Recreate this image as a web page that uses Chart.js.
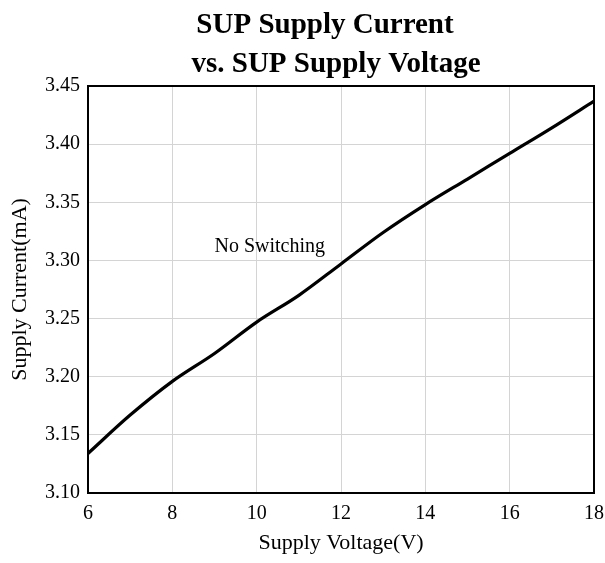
<!DOCTYPE html>
<html>
<head>
<meta charset="utf-8">
<script src="https://cdn.jsdelivr.net/npm/chart.js@4"></script>
<style>
html,body{margin:0;padding:0;background:#fff;}
#wrap{width:605px;height:563px;position:relative;}
</style>
</head>
<body>
<div id="wrap"><canvas id="c" width="605" height="563"></canvas></div>
<script>
const titleLines = ['SUP Supply Current', 'vs. SUP Supply Voltage'];
const xAxisTitle = 'Supply Voltage(V)';
const yAxisTitle = 'Supply Current(mA)';
const annotationText = 'No Switching';
const annotationPos = [9.0, 3.307];
const voltage = [6, 7, 8, 9, 10, 11, 12, 13, 14, 15, 16, 17, 18];
const current = [3.134, 3.167, 3.196, 3.220, 3.247, 3.270, 3.297, 3.324, 3.348, 3.370, 3.392, 3.414, 3.437];
const xTicks = [6, 8, 10, 12, 14, 16, 18];
const yTicks = [3.10, 3.15, 3.20, 3.25, 3.30, 3.35, 3.40, 3.45];

const serif = "'Liberation Serif','Times New Roman',serif";

const overlay = {
  id: 'overlay',
  afterDraw(chart) {
    const ctx = chart.ctx;
    const a = chart.chartArea;
    ctx.save();
    ctx.strokeStyle = '#000';
    ctx.lineWidth = 2;
    ctx.strokeRect(a.left, a.top, a.right - a.left, a.bottom - a.top);
    ctx.fillStyle = '#000';
    ctx.font = 'bold 29px ' + serif;
    ctx.textAlign = 'center';
    ctx.textBaseline = 'alphabetic';
    ctx.fillText(titleLines[0], 325, 33);
    ctx.fillText(titleLines[1], 336, 72);
    ctx.font = '20px ' + serif;
    ctx.textAlign = 'left';
    const xs = chart.scales.x, ys = chart.scales.y;
    ctx.fillText(annotationText, xs.getPixelForValue(annotationPos[0]), ys.getPixelForValue(annotationPos[1]));
    ctx.restore();
  }
};

new Chart(document.getElementById('c'), {
  type: 'line',
  data: {
    datasets: [{
      data: voltage.map((v, i) => ({x: v, y: current[i]})),
      borderColor: '#000',
      borderWidth: 3.2,
      pointRadius: 0,
      cubicInterpolationMode: 'monotone',
      fill: false
    }]
  },
  options: {
    responsive: false,
    animation: false,
    devicePixelRatio: 1,
    layout: {padding: {top: 86, right: 11, left: 0, bottom: 0}},
    plugins: {legend: {display: false}, tooltip: {enabled: false}, title: {display: false}},
    scales: {
      x: {
        type: 'linear', min: 6, max: 18,
        afterBuildTicks(s) { s.ticks = xTicks.map(v => ({value: v})); },
        afterFit(s) { s.height = 70; s.paddingRight = 0; s.paddingLeft = 0; },
        grid: {color: '#d4d4d4', lineWidth: 1, drawTicks: false},
        border: {color: '#000', width: 2},
        ticks: {color: '#000', font: {family: serif, size: 20}, padding: 9, maxRotation: 0, callback: v => String(v)},
        title: {display: true, text: xAxisTitle, color: '#000', font: {family: serif, size: 22}, padding: {top: 0, bottom: 7}}
      },
      y: {
        type: 'linear', min: 3.10, max: 3.45,
        afterBuildTicks(s) { s.ticks = yTicks.map(v => ({value: v})); },
        afterFit(s) { s.width = 88; s.paddingTop = 0; s.paddingBottom = 0; },
        grid: {color: '#d4d4d4', lineWidth: 1, drawTicks: false},
        border: {color: '#000', width: 2},
        ticks: {color: '#000', font: {family: serif, size: 20}, padding: 8, callback: v => Number(v).toFixed(2)},
        title: {display: true, text: yAxisTitle, color: '#000', font: {family: serif, size: 22}, padding: {top: 7, bottom: 0}}
      }
    }
  },
  plugins: [overlay]
});
</script>
</body>
</html>
